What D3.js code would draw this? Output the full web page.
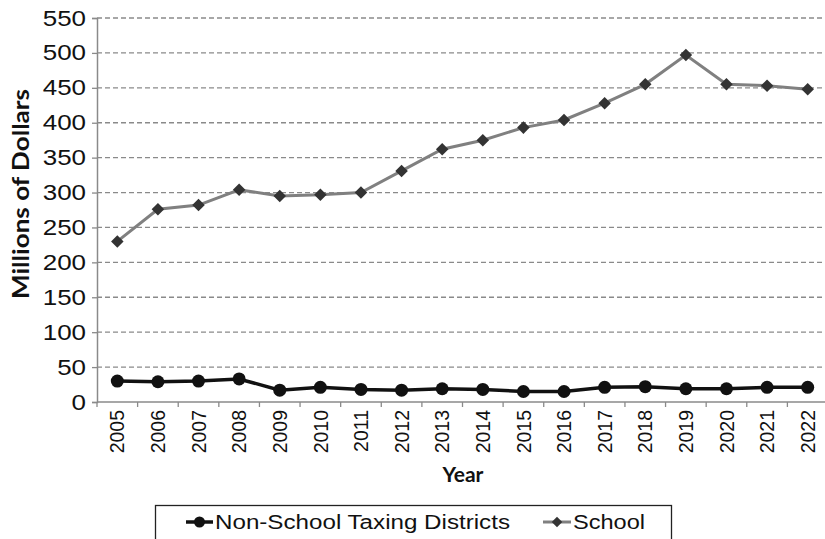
<!DOCTYPE html>
<html>
<head>
<meta charset="utf-8">
<script src="https://cdn.jsdelivr.net/npm/d3@7"></script>
<style>
  body { margin: 0; background: #fff; }
  svg { display: block; }
</style>
</head>
<body>
<svg id="chart" width="825" height="539"></svg>
<script>
// Annual amounts, millions of dollars
const years = ["2005","2006","2007","2008","2009","2010","2011","2012","2013","2014","2015","2016","2017","2018","2019","2020","2021","2022"];
const nonSchool = [30, 29, 30, 33, 17, 21, 18, 17, 19, 18, 15, 15, 21, 22, 19, 19, 21, 21];
const school = [230, 276, 282, 304, 295, 297, 300, 331, 362, 375, 393, 404, 428, 455, 497, 455, 453, 448];
const yTicks = [0, 50, 100, 150, 200, 250, 300, 350, 400, 450, 500, 550];
const seriesNames = ["Non-School Taxing Districts", "School"];

const svg = d3.select("#chart");
const m = { left: 97, right: 828, top: 18, bottom: 402 };
const SANS = "Liberation Sans, Arial, sans-serif";
const WIDE = 1.18; // horizontal stretch of the sans labels

const x = d3.scaleBand().domain(years).range([m.left, m.right]);
const y = d3.scaleLinear().domain([0, 550]).range([m.bottom, m.top]);
const cx = d => x(d) + x.bandwidth() / 2;

// Horizontal dashed gridlines
svg.append("g").selectAll("line").data(yTicks.filter(t => t > 0)).join("line")
  .attr("x1", m.left).attr("x2", m.right)
  .attr("y1", d => y(d)).attr("y2", d => y(d))
  .attr("stroke", "#8a8a8a").attr("stroke-width", 1.3)
  .attr("stroke-dasharray", "5,3");

// Y axis
const yAxis = svg.append("g").attr("transform", `translate(${m.left},0)`)
  .call(d3.axisLeft(y).tickValues(yTicks).tickSize(5).tickPadding(6));
yAxis.select(".domain").attr("stroke", "#8a8a8a").attr("stroke-width", 1.5);
yAxis.selectAll(".tick line").attr("stroke", "#8a8a8a").attr("stroke-width", 1.3);
yAxis.selectAll("text")
  .attr("x", null)
  .attr("transform", `translate(-11,0) scale(${WIDE},1)`)
  .attr("font-family", SANS).attr("font-size", 22).attr("fill", "#111");

// X axis: ticks sit between categories
const xAxis = svg.append("g").attr("transform", `translate(0,${m.bottom})`);
xAxis.append("line").attr("x1", m.left).attr("x2", m.right)
  .attr("stroke", "#8a8a8a").attr("stroke-width", 1.5);
xAxis.selectAll("line.tk").data(years.concat(["end"])).join("line").attr("class", "tk")
  .attr("x1", (d, i) => m.left + i * x.step()).attr("x2", (d, i) => m.left + i * x.step())
  .attr("y1", 0).attr("y2", 5).attr("stroke", "#8a8a8a").attr("stroke-width", 1.3);
xAxis.selectAll("text").data(years).join("text")
  .attr("transform", d => `translate(${cx(d)},${8}) rotate(-90) scale(1,1.05)`)
  .attr("text-anchor", "end").attr("dy", "0.35em")
  .attr("font-family", SANS)
  .attr("font-size", 19.5).attr("fill", "#111")
  .text(d => d);

// Axis titles
svg.append("text")
  .attr("transform", `translate(29,194) rotate(-90)`)
  .attr("text-anchor", "middle")
  .attr("textLength", 210).attr("lengthAdjust", "spacingAndGlyphs")
  .attr("font-family", "Lato, sans-serif").attr("font-weight", "bold")
  .attr("font-size", 22).attr("fill", "#111")
  .text("Millions of Dollars");
svg.append("text")
  .attr("x", 463).attr("y", 482)
  .attr("text-anchor", "middle")
  .attr("font-family", "Lato, sans-serif").attr("font-weight", "bold")
  .attr("font-size", 21).attr("fill", "#111")
  .text("Year");

const line = d3.line().x((d, i) => cx(years[i])).y(d => y(d));

// School series
svg.append("path").datum(school).attr("d", line)
  .attr("fill", "none").attr("stroke", "#808080").attr("stroke-width", 3);
svg.append("g").selectAll("path").data(school).join("path")
  .attr("transform", (d, i) => `translate(${cx(years[i])},${y(d)})`)
  .attr("d", d3.symbol(d3.symbolDiamond2, 100)())
  .attr("fill", "#333");

// Non-school series
svg.append("path").datum(nonSchool).attr("d", line)
  .attr("fill", "none").attr("stroke", "#111").attr("stroke-width", 3.5);
svg.append("g").selectAll("circle").data(nonSchool).join("circle")
  .attr("cx", (d, i) => cx(years[i])).attr("cy", d => y(d))
  .attr("r", 6.5).attr("fill", "#111");

// Legend
const lg = svg.append("g");
lg.append("rect").attr("x", 155.5).attr("y", 505.5).attr("width", 516).attr("height", 40)
  .attr("fill", "#fff").attr("stroke", "#222").attr("stroke-width", 1.3);
lg.append("line").attr("x1", 186).attr("x2", 213).attr("y1", 522).attr("y2", 522)
  .attr("stroke", "#111").attr("stroke-width", 3.5);
lg.append("circle").attr("cx", 199.5).attr("cy", 522).attr("r", 5.5).attr("fill", "#111");
lg.append("text").attr("x", 215).attr("y", 529)
  .attr("textLength", 295).attr("lengthAdjust", "spacingAndGlyphs")
  .attr("font-family", SANS).attr("font-size", 20).attr("fill", "#111")
  .text(seriesNames[0]);
lg.append("line").attr("x1", 543).attr("x2", 571).attr("y1", 522).attr("y2", 522)
  .attr("stroke", "#808080").attr("stroke-width", 3);
lg.append("path").attr("transform", "translate(557,522)")
  .attr("d", d3.symbol(d3.symbolDiamond2, 70)()).attr("fill", "#333");
lg.append("text").attr("x", 573).attr("y", 529)
  .attr("textLength", 72).attr("lengthAdjust", "spacingAndGlyphs")
  .attr("font-family", SANS).attr("font-size", 20).attr("fill", "#111")
  .text(seriesNames[1]);
</script>
</body>
</html>
